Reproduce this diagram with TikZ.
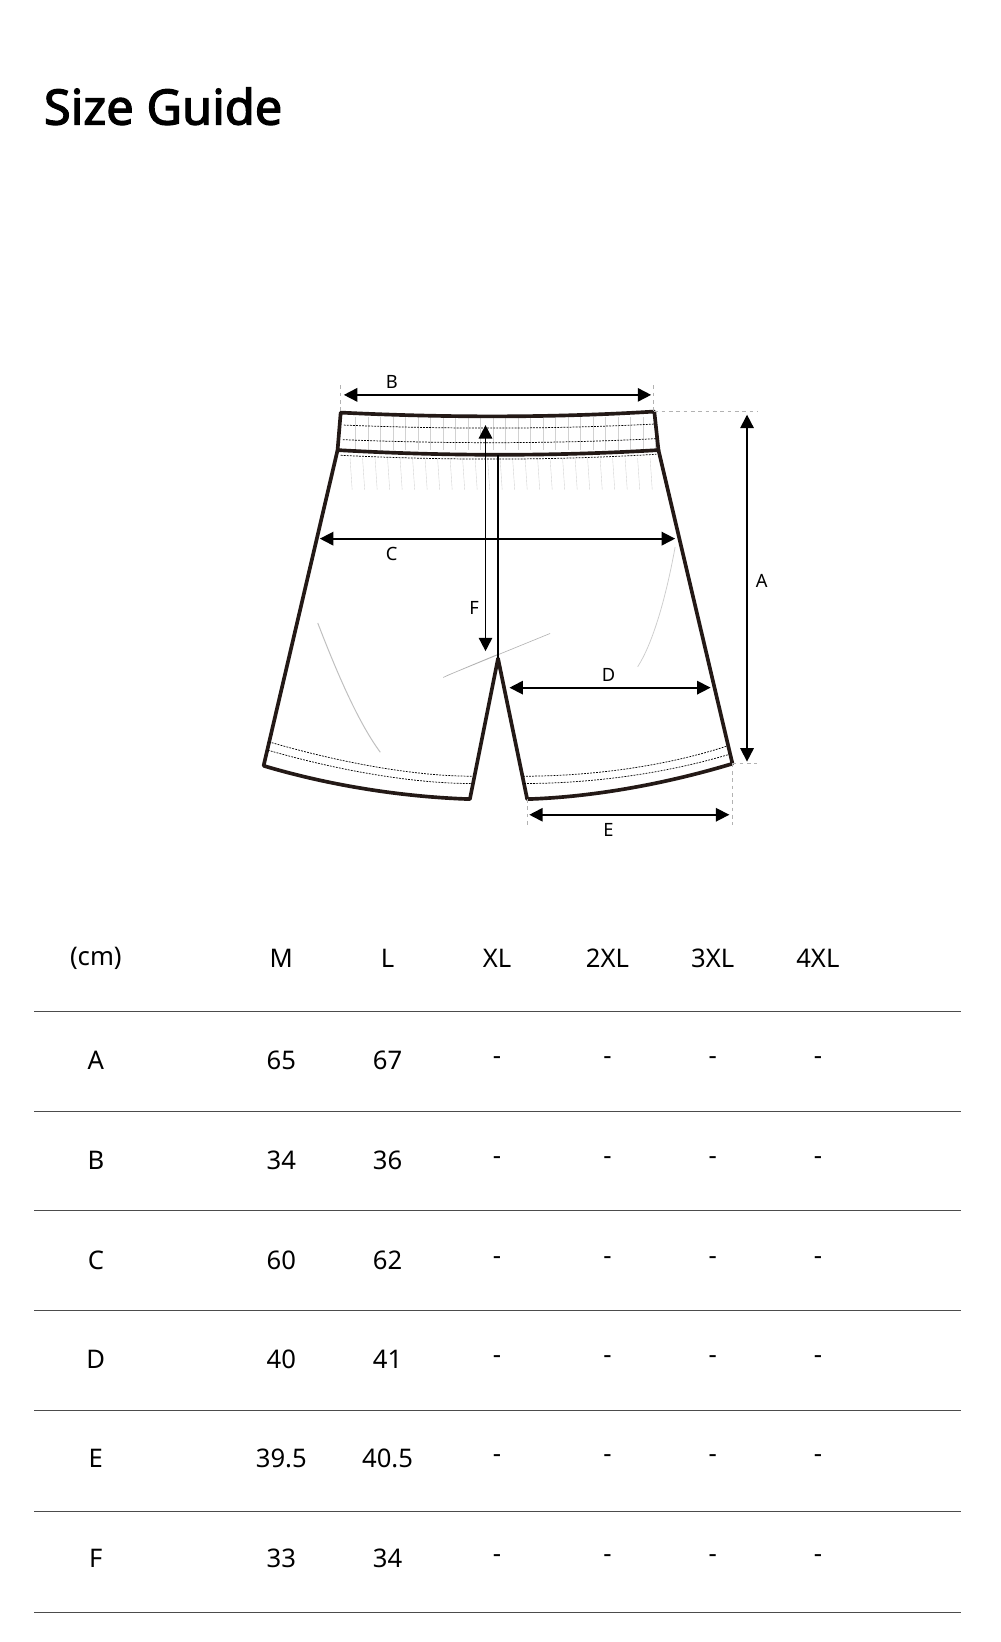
\documentclass[tikz,border=0pt]{standalone}
\usepackage{fontspec}
\setmainfont{Noto Sans}
\newfontfamily\titlefont{Noto Sans}[FakeBold=2.5]
\usetikzlibrary{arrows.meta}
\begin{document}
\begin{tikzpicture}[x=0.03cm,y=-0.03cm,
  outline/.style={line width=3pt,draw={rgb,255:red,35;green,25;blue,22},line join=round},
  stitch/.style={line width=0.6pt,dash pattern=on 1.5pt off 1pt},
  guide/.style={dashed,gray!60,line width=0.7pt},
  dim/.style={line width=1.4pt,{Triangle[length=11pt,width=11pt]}-{Triangle[length=11pt,width=11pt]}},
  lbl/.style={font=\fontsize{15}{15}\selectfont},
  cell/.style={font=\fontsize{21}{21}\selectfont},
  rule/.style={line width=0.8pt,black!70}]
\useasboundingbox (0,0) rectangle (960,1576);
\fill[white] (0,0) rectangle (960,1576);
\node[anchor=west,font=\fontsize{40}{40}\selectfont\titlefont] (title) at (38,102) {Size Guide};
% gathers
\foreach \x in {336,348,...,624}{\draw[gray!35,line width=0.3pt] (\x,440) -- (\x+2,470);
 \draw[gray!35,line width=0.3pt] (\x+5,400) -- (\x+5,432);}
% faint curves
\draw[gray!50,line width=0.8pt] (305,598) .. controls (325,650) and (345,695) .. (365,722);
\draw[gray!40,line width=0.6pt] (648,525) .. controls (638,580) and (625,620) .. (612,640);
\draw[gray!60,line width=0.5pt] (528,608) -- (430,648) .. controls (420,653) and (422,651) .. (478,628);
% shorts
\draw[outline] (327,396) .. controls (430,401) and (530,401) .. (628,395) -- (632,432) .. controls (530,438) and (430,438) .. (324,432) -- cycle;
\draw[outline] (324,432) -- (253,735) .. controls (320,755) and (390,765) .. (451,767) -- (478,632) -- (506,767) .. controls (570,765) and (640,752) .. (703,733) -- (632,432);
\draw[line width=1.2pt] (478,437) -- (478,632);
\draw[stitch] (330,408) .. controls (430,412) and (530,412) .. (628,407);
\draw[stitch] (329,422) .. controls (430,426) and (530,426) .. (630,421);
\draw[stitch] (327,437) .. controls (430,442) and (530,442) .. (630,436);
\draw[stitch] (258,712) .. controls (330,733) and (400,745) .. (453,745);
\draw[stitch] (257,720) .. controls (330,741) and (400,752) .. (452,752);
\draw[stitch] (502,745) .. controls (570,745) and (640,735) .. (698,716);
\draw[stitch] (503,752) .. controls (570,752) and (640,742) .. (700,724);
% guides
\draw[guide] (327,370) -- (327,396);
\draw[guide] (627,370) -- (627,395);
\draw[guide] (628,395) -- (727,395);
\draw[guide] (703,733) -- (727,733);
\draw[guide] (506,767) -- (506,792);
\draw[guide] (703,733) -- (703,792);
% dims
\coordinate (b1) at (330,379); \coordinate (b2) at (625,379);
\draw[dim] (b1) -- (b2); \node[lbl] (lb) at (376,367) {B};
\coordinate (a1) at (717,398); \coordinate (a2) at (717,731);
\draw[dim] (a1) -- (a2); \node[lbl] (la) at (731,558) {A};
\coordinate (c1) at (307,517); \coordinate (c2) at (648,517);
\draw[dim] (c1) -- (c2); \node[lbl] (lc) at (376,532) {C};
\coordinate (f1) at (466,408); \coordinate (f2) at (466,625);
\draw[dim] (f1) -- (f2); \node[lbl] (lf) at (455,584) {F};
\coordinate (d1) at (489,660); \coordinate (d2) at (682,660);
\draw[dim] (d1) -- (d2); \node[lbl] (ld) at (584,648) {D};
\coordinate (e1) at (508,782); \coordinate (e2) at (700,782);
\draw[dim] (e1) -- (e2); \node[lbl] (le) at (584,797) {E};
% table
\foreach \t/\x in {(cm)/92,M/270,L/372,XL/477,2XL/583,3XL/684,4XL/785}
  \node[cell] (h\x) at (\x,920) {\t};
\foreach \y in {971,1067,1162,1258,1354,1451,1548}
  \draw[rule] (33,\y) -- (922,\y);
\foreach \r/\m/\l/\y in {A/65/67/1018,B/34/36/1114,C/60/62/1210,D/40/41/1305,E/39.5/40.5/1400,F/33/34/1496}{
  \node[cell] (r\r) at (92,\y) {\r};
  \node[cell] (m\r) at (270,\y) {\m};
  \node[cell] (l\r) at (372,\y) {\l};
  \foreach \x in {477,583,684,785} \node[cell] at (\x,\y) {-};
}
\end{tikzpicture}
\end{document}
